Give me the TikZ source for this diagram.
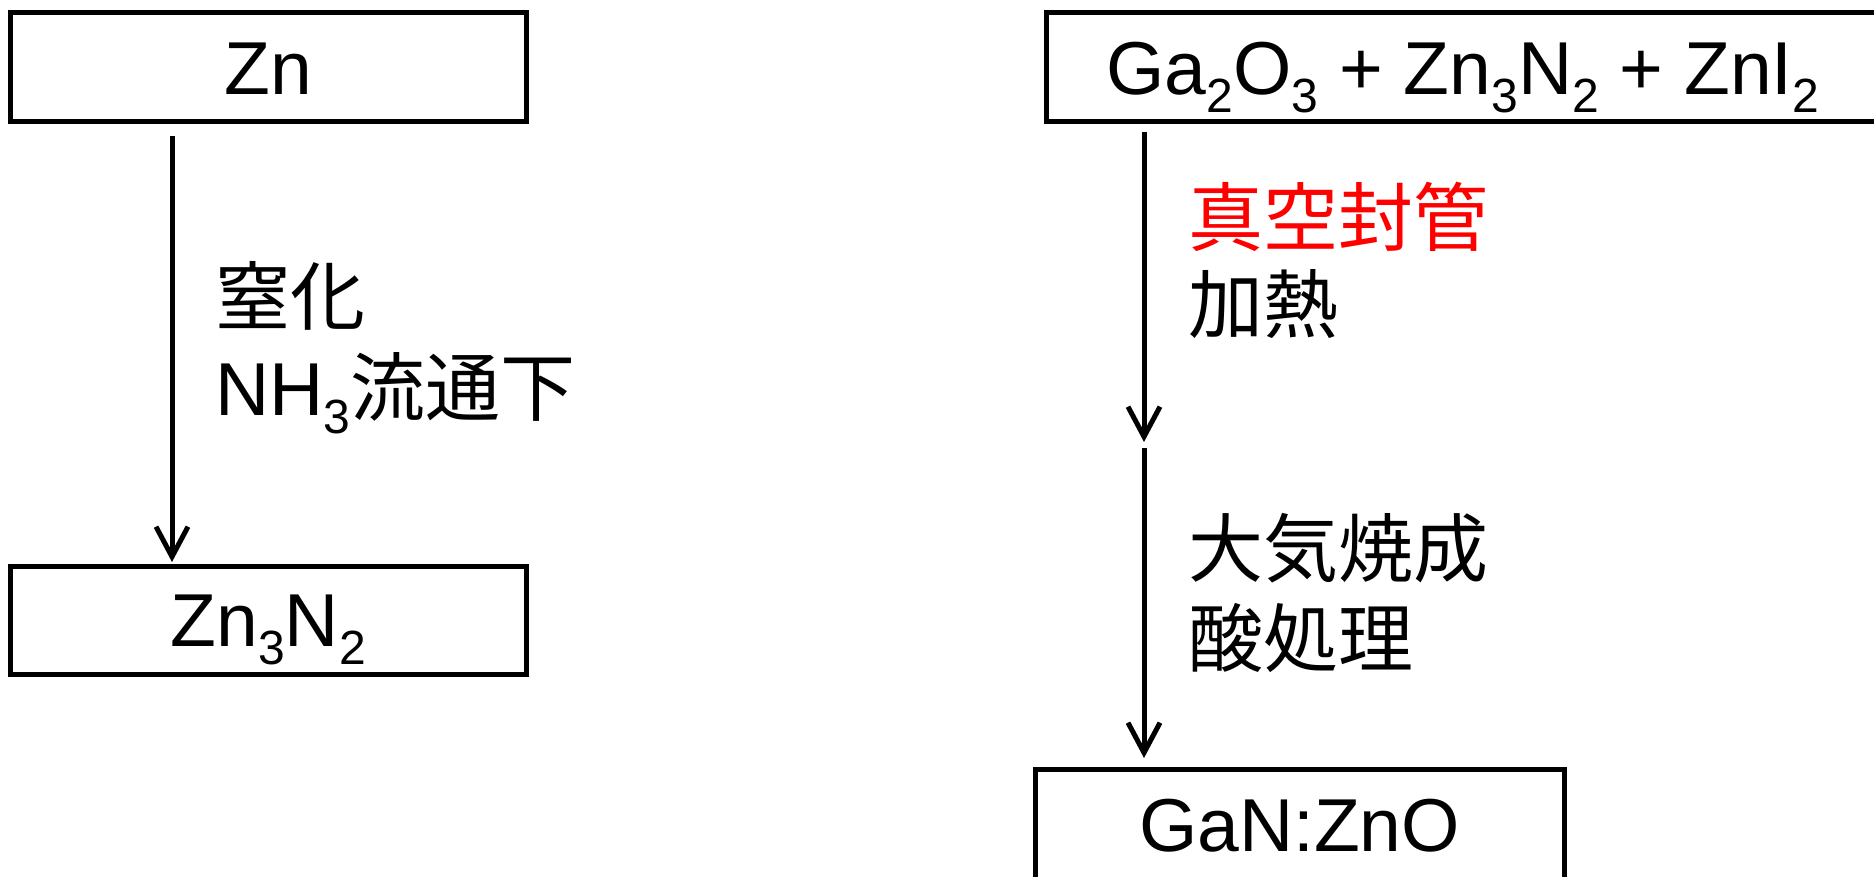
\documentclass[tikz,border=0pt]{standalone}
\usepackage{fontspec}
\setmainfont{Liberation Sans}
\newfontfamily\cjk{Noto Sans CJK JP}
\usetikzlibrary{arrows.meta}
\newcommand\sbs[1]{\raisebox{-18pt}{\fontsize{48pt}{48pt}\selectfont #1}}
\begin{document}
\begin{tikzpicture}[x=1pt,y=-1pt,
  box/.style={draw,line width=5pt,inner sep=0pt,text height=53.7pt,text depth=0pt,font=\fontsize{75pt}{90pt}\selectfont},
  lbl/.style={anchor=base west,inner sep=0pt,font=\fontsize{75pt}{90pt}\selectfont},
  arr/.style={line width=5pt,-{Straight Barb[length=30pt,width=32pt]}}]
\useasboundingbox (0,0) rectangle (1874,877);
\clip (0,0) rectangle (1874,877);
\node[box,minimum width=515.5pt,minimum height=109pt] (zn) at (268.25,67.5) {Zn};
\node[box,minimum width=515.5pt,minimum height=108pt] (znn) at (268.25,620) {Zn\sbs{3}N\sbs{2}};
\node[box,minimum width=834pt,minimum height=109pt] (mix) at (1463,67.5) {Ga\sbs{2}O\sbs{3} + Zn\sbs{3}N\sbs{2} + ZnI\sbs{2}};
\node[box,minimum width=529pt,minimum height=112pt] (gan) at (1299.5,825) {GaN:ZnO};
\node[lbl] (l1) at (215,325) {\cjk 窒化};
\node[lbl] (l2) at (215,415) {NH\sbs{3}{\cjk 流通下}};
\node[lbl,text=red] (r1) at (1188,246) {\cjk 真空封管};
\node[lbl] (r2) at (1188,333) {\cjk 加熱};
\node[lbl] (r3) at (1188,576) {\cjk 大気焼成};
\node[lbl] (r4) at (1188,666) {\cjk 酸処理};
\coordinate (lx) at (172,0);
\coordinate (rx) at (1144,0);
\coordinate (mid) at (1144,445);
\draw[arr,shorten <=11.5pt,shorten >=1.5pt] (lx |- zn.south) -- (lx |- znn.north);
\draw[arr,shorten <=7.5pt,shorten >=3pt] (rx |- mix.south) -- (mid);
\draw[arr,shorten <=3pt,shorten >=8.5pt] (mid) -- (rx |- gan.north);
\end{tikzpicture}
\end{document}
